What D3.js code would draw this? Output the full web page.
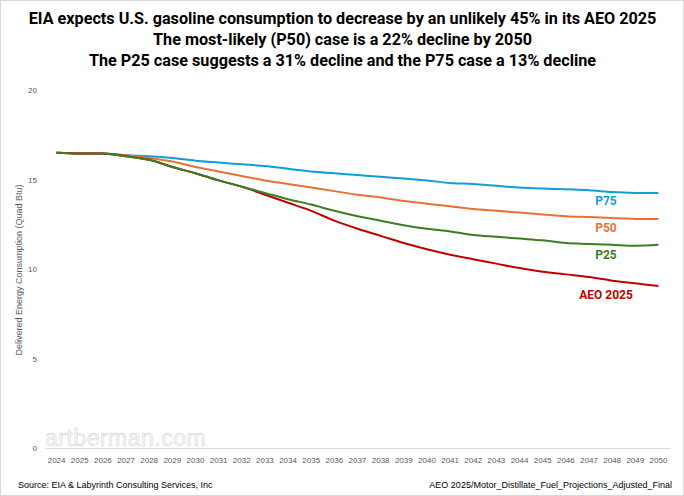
<!DOCTYPE html>
<html>
<head>
<meta charset="utf-8">
<script src="https://cdn.jsdelivr.net/npm/d3@7"></script>
<style>
  body { margin: 0; background: #fff; }
  svg { display: block; }
</style>
</head>
<body>
<div id="chart"></div>
<script>
// years on the category axis
var years = d3.range(2024, 2051);

// delivered energy, quad Btu
var aeo2025 = [16.5, 16.45, 16.45, 16.3, 16.1, 15.7, 15.35, 14.95, 14.6, 14.15, 13.7, 13.25, 12.7, 12.25, 11.85, 11.45, 11.1, 10.8, 10.55, 10.3, 10.05, 9.85, 9.7, 9.55, 9.35, 9.2, 9.05];
var p25 = [16.5, 16.45, 16.45, 16.3, 16.1, 15.7, 15.35, 14.95, 14.6, 14.25, 13.9, 13.6, 13.25, 12.95, 12.7, 12.45, 12.25, 12.1, 11.9, 11.8, 11.7, 11.6, 11.45, 11.4, 11.35, 11.3, 11.35];
var p50 = [16.5, 16.45, 16.45, 16.35, 16.2, 16.0, 15.7, 15.45, 15.2, 14.95, 14.75, 14.55, 14.35, 14.15, 14.0, 13.8, 13.65, 13.5, 13.35, 13.25, 13.15, 13.05, 12.95, 12.9, 12.85, 12.8, 12.8];
var p75 = [16.5, 16.45, 16.45, 16.35, 16.3, 16.2, 16.05, 15.95, 15.85, 15.75, 15.6, 15.45, 15.35, 15.25, 15.15, 15.05, 14.95, 14.8, 14.75, 14.65, 14.55, 14.5, 14.45, 14.4, 14.3, 14.25, 14.25];

var yTicks = [0, 5, 10, 15, 20];

var titleLines = [
  "EIA expects U.S. gasoline consumption to decrease by an unlikely 45% in its AEO 2025",
  "The most-likely (P50) case is a 22% decline by 2050",
  "The P25 case suggests a 31% decline and the P75 case a 13% decline"
];

var series = [
  {name: "P75", values: p75, color: "#109ed6", dy: 11},
  {name: "P50", values: p50, color: "#e97132", dy: 11},
  {name: "AEO 2025", values: aeo2025, color: "#c00000", dy: 18},
  {name: "P25", values: p25, color: "#3b7d23", dy: 11}
];

var width = 684, height = 496;

var svg = d3.select("#chart").append("svg")
  .attr("width", width)
  .attr("height", height);

// outer frame
svg.append("rect")
  .attr("x", 0.5).attr("y", 0.5)
  .attr("width", width - 1).attr("height", height - 1)
  .attr("fill", "#fff")
  .attr("stroke", "#d9d9d9");

// title - squeezed horizontally to look like a condensed face
var titleG = svg.append("g");
titleG.selectAll("text")
  .data(titleLines)
  .enter()
  .append("text")
  .attr("x", 0)
  .attr("y", (d, i) => 24 + i * 21)
  .attr("text-anchor", "middle")
  .style("font-family", "Roboto, 'Liberation Sans', sans-serif")
  .style("font-weight", "bold")
  .style("font-size", "17px")
  .attr("fill", "#000")
  .text(d => d);
var w0 = titleG.select("text").node().getComputedTextLength();
var sx = 628 / w0;
titleG.attr("transform", `translate(${width / 2 + 0.5},0) scale(${sx},1)`);

var xScale = d3.scaleBand()
  .domain(years)
  .range([45, 670])
  .padding(0);

var yScale = d3.scaleLinear()
  .domain([0, 20])
  .range([448, 90]);

var xPos = d => xScale(d) + xScale.bandwidth() / 2;

// watermark
svg.append("text")
  .attr("x", 45)
  .attr("y", 446)
  .style("font-family", "'Liberation Sans', sans-serif")
  .style("font-size", "23px")
  .style("letter-spacing", "0.5px")
  .attr("fill", "#f6f6f6")
  .attr("stroke", "#d3d3d3")
  .attr("stroke-width", 0.5)
  .text("artberman.com");

// y axis (labels only)
var yAxis = d3.axisLeft(yScale).tickValues(yTicks).tickSize(0).tickPadding(8);
var yG = svg.append("g")
  .attr("transform", "translate(45,0)")
  .call(yAxis);
yG.select(".domain").remove();
yG.selectAll("text")
  .style("font-family", "'Liberation Sans', sans-serif")
  .style("font-size", "8px")
  .attr("fill", "#595959");

// x axis
var xAxis = d3.axisBottom(xScale).tickSize(0).tickPadding(9);
var xG = svg.append("g")
  .attr("transform", "translate(0,448)")
  .call(xAxis);
xG.select(".domain").attr("stroke", "#d9d9d9");
xG.selectAll("text")
  .style("font-family", "'Liberation Sans', sans-serif")
  .style("font-size", "8px")
  .attr("fill", "#595959");

// y axis title
svg.append("text")
  .attr("transform", "translate(22,270) rotate(-90)")
  .attr("text-anchor", "middle")
  .style("font-family", "'Liberation Sans', sans-serif")
  .style("font-size", "9px")
  .attr("fill", "#595959")
  .text("Delivered Energy Consumption (Quad Btu)");

var line = d3.line()
  .x((d, i) => xPos(years[i]))
  .y(d => yScale(d))
  .curve(d3.curveCatmullRom.alpha(0.5));

svg.append("g").selectAll("path")
  .data(series)
  .enter()
  .append("path")
  .attr("d", d => line(d.values))
  .attr("fill", "none")
  .attr("stroke", d => d.color)
  .attr("stroke-width", 2);

// series labels under the line ends
svg.append("g").selectAll("text")
  .data(series)
  .enter()
  .append("text")
  .attr("x", xPos(2047) + 17)
  .attr("y", d => yScale(d.values[years.indexOf(2047)]) + d.dy + 4)
  .attr("text-anchor", "middle")
  .style("font-family", "Roboto, sans-serif")
  .style("font-weight", "bold")
  .style("font-size", "12px")
  .attr("fill", d => d.color)
  .text(d => d.name);

// footer
svg.append("text")
  .attr("x", 18)
  .attr("y", 488)
  .style("font-family", "'Liberation Sans', sans-serif")
  .style("font-size", "9px")
  .attr("fill", "#000")
  .text("Source: EIA & Labyrinth Consulting Services, Inc");

svg.append("text")
  .attr("x", 672)
  .attr("y", 488)
  .attr("text-anchor", "end")
  .style("font-family", "'Liberation Sans', sans-serif")
  .style("font-size", "9px")
  .attr("fill", "#000")
  .text("AEO 2025/Motor_Distillate_Fuel_Projections_Adjusted_Final");
</script>
</body>
</html>
